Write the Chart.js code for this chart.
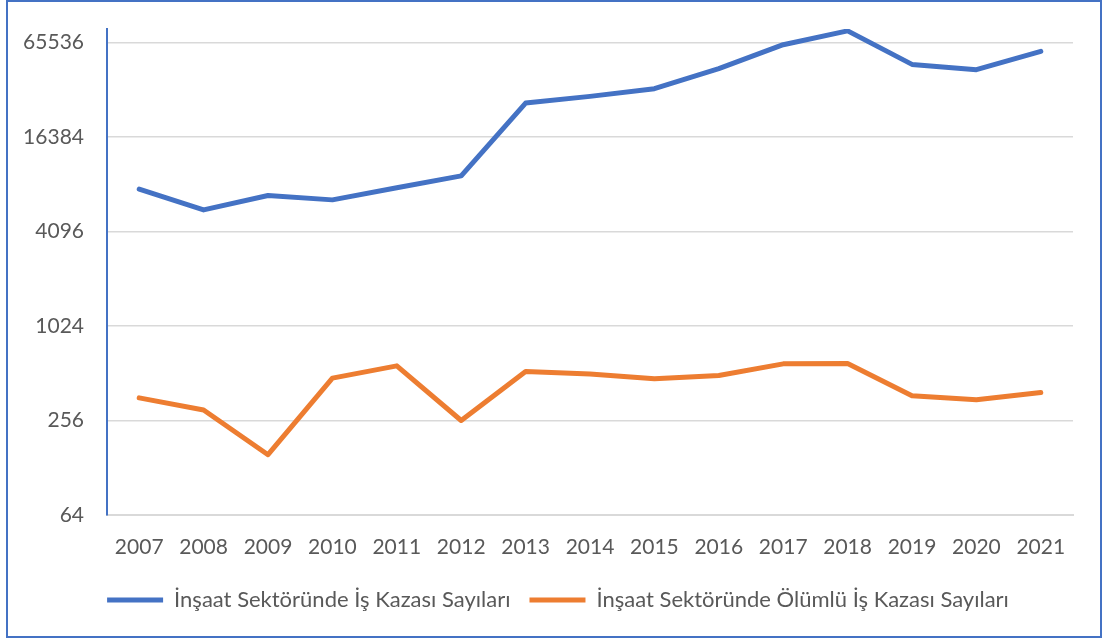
<!DOCTYPE html>
<html>
<head>
<meta charset="utf-8">
<script src="https://cdn.jsdelivr.net/npm/chart.js@4"></script>
<style>
  html, body { margin: 0; padding: 0; background: #fff; }
  #frame { position: absolute; left: 6px; top: 0; width: 1096px; height: 638px; border: 2px solid #4472C4; box-sizing: border-box; }
  #wrap { position: absolute; left: 0; top: 0; width: 1103px; height: 641px; }
</style>
</head>
<body>
<div id="frame"></div>
<div id="wrap"><canvas id="chart" width="1103" height="641"></canvas></div>
<script>
// data
const years = ["2007", "2008", "2009", "2010", "2011", "2012", "2013", "2014", "2015", "2016", "2017", "2018", "2019", "2020", "2021"];
const kazaSayilari = [7630, 5630, 6950, 6520, 7780, 9270, 26980, 29770, 33330, 44680, 63550, 77800, 47600, 44040, 57590];
const olumluKazaSayilari = [357, 299, 155, 477, 571, 256, 525, 506, 472, 495, 588, 591, 368, 347, 386];
const yTicks = [64, 256, 1024, 4096, 16384, 65536];

const tickFont = { family: "Lato", size: 21 };
const legendFont = { family: "Lato", size: 22 };
const textColor = "#595959";

new Chart(document.getElementById("chart"), {
  type: "line",
  data: {
    labels: years,
    datasets: [{
      label: "İnşaat Sektöründe İş Kazası Sayıları",
      data: kazaSayilari,
      borderColor: "#4472C4",
      backgroundColor: "#4472C4",
      borderWidth: 5,
      borderCapStyle: "round",
      borderJoinStyle: "round",
      pointRadius: 0,
      tension: 0
    }, {
      label: "İnşaat Sektöründe Ölümlü İş Kazası Sayıları",
      data: olumluKazaSayilari,
      borderColor: "#ED7D31",
      backgroundColor: "#ED7D31",
      borderWidth: 5,
      borderCapStyle: "round",
      borderJoinStyle: "round",
      pointRadius: 0,
      tension: 0
    }]
  },
  options: {
    responsive: false,
    animation: false,
    devicePixelRatio: 1,
    layout: { padding: { top: 29, right: 0, left: 13, bottom: 29 } },
    plugins: {
      tooltip: { enabled: false },
      legend: {
        position: "bottom",
        maxHeight: 42,
        labels: {
          usePointStyle: true,
          pointStyle: "line",
          pointStyleWidth: 56,
          font: legendFont,
          color: textColor,
          padding: 19
        }
      }
    },
    scales: {
      x: {
        offset: true,
        grid: { drawOnChartArea: false, drawTicks: false },
        border: { color: "#D9D9D9", width: 2 },
        ticks: { font: tickFont, color: textColor, padding: 20, maxRotation: 0, autoSkip: false },
        afterFit: s => { s.height = 55; s.paddingLeft = 0; s.paddingRight = 0; }
      },
      y: {
        type: "logarithmic",
        min: 64,
        max: 80000,
        afterBuildTicks: s => { s.ticks = yTicks.map(v => ({ value: v })); },
        afterFit: s => { s.width = 94; s.paddingTop = 0; s.paddingBottom = 0; },
        grid: { color: "#D9D9D9", lineWidth: 1.5, drawTicks: false },
        border: { color: "#4472C4", width: 2 },
        ticks: { font: tickFont, color: textColor, padding: 23, callback: v => String(v) }
      },
      // empty spacer on the right so the plot ends where the reference does
      yRight: {
        position: "right",
        grid: { display: false, drawTicks: false },
        border: { display: false },
        ticks: { display: false },
        afterFit: s => { s.width = 30; s.paddingTop = 0; s.paddingBottom = 0; }
      }
    }
  }
});
</script>
</body>
</html>
